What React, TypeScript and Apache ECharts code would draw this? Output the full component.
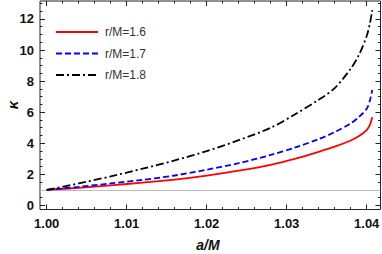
import React, { useEffect, useRef } from 'react';
import * as echarts from 'echarts';

const aOverM = [1.0, 1.004, 1.008, 1.012, 1.016, 1.02, 1.024, 1.028, 1.031, 1.034, 1.036, 1.038, 1.039, 1.04, 1.0404, 1.0407];
const kappa16 = [1.0, 1.14, 1.3, 1.47, 1.66, 1.92, 2.24, 2.62, 3.0, 3.45, 3.78, 4.18, 4.45, 4.85, 5.18, 5.67];
const kappa17 = [1.0, 1.2, 1.42, 1.65, 1.93, 2.3, 2.72, 3.25, 3.72, 4.27, 4.72, 5.28, 5.68, 6.22, 6.75, 7.43];
const kappa18 = [1.0, 1.42, 1.87, 2.37, 2.9, 3.5, 4.2, 5.0, 5.85, 6.8, 7.55, 8.8, 9.65, 10.9, 11.7, 12.57];
const seriesNames = ['r/M=1.6', 'r/M=1.7', 'r/M=1.8'];
const referenceKappa = 1;

// layout (pixels)
const PX_X = 8000; // px per unit a/M
const PX_Y = 15.55; // px per unit kappa
const FRAME_L = 40, FRAME_R = 380.5, FRAME_T = 1, FRAME_B = 209.5;
const X1_PX = 46.7; // px of a/M = 1.00
const Y0_PX = 205.5; // px of kappa = 0
const W = 382, H = 254;

export default function App() {
  const ref = useRef<HTMLDivElement>(null);
  useEffect(() => {
    const chart = echarts.init(ref.current!, null, { renderer: 'svg' });
    const toPairs = (ys: number[]) => aOverM.map((x, i) => [x, ys[i]]);
    const tickXMax = 1.04, tickYMax = 14;
    const g1Left = X1_PX;
    const g1Width = (tickXMax - 1) * PX_X;
    const g1Top = Y0_PX - tickYMax * PX_Y;
    const g1Height = tickYMax * PX_Y;
    const font = 'Arial, "Liberation Sans", sans-serif';
    const tickCommon = {
      axisLine: { show: false, onZero: false },
      axisTick: { show: true, inside: true, length: 5, lineStyle: { color: '#222', width: 1 } },
      minorTick: { show: true, length: 2.5, lineStyle: { color: '#222', width: 1 } },
      splitLine: { show: false },
      minorSplitLine: { show: false },
    };
    const option: any = {
      animation: false,
      backgroundColor: '#fff',
      grid: [
        { left: FRAME_L, top: FRAME_T, width: FRAME_R - FRAME_L, height: FRAME_B - FRAME_T, show: true, borderColor: '#222', borderWidth: 1, backgroundColor: 'transparent', outerBoundsMode: 'none', containLabel: false },
        { left: g1Left, top: g1Top, width: g1Width, height: g1Height, outerBoundsMode: 'none', containLabel: false },
      ],
      xAxis: [
        { gridIndex: 0, type: 'value', min: 1 - (X1_PX - FRAME_L) / PX_X, max: 1 + (FRAME_R - X1_PX) / PX_X, show: false, axisLine: { onZero: false } },
        {
          gridIndex: 1, type: 'value', position: 'bottom', min: 1, max: tickXMax, interval: 0.01,
          offset: FRAME_B - Y0_PX, ...tickCommon, minorTick: { ...tickCommon.minorTick, splitNumber: 5 },
          axisLabel: { show: true, margin: 7, fontSize: 13, fontWeight: 'bold', color: '#111', fontFamily: font, formatter: (v: number) => v.toFixed(2) },
        },
        {
          gridIndex: 1, type: 'value', position: 'top', min: 1, max: tickXMax, interval: 0.01,
          offset: g1Top - FRAME_T, ...tickCommon, minorTick: { ...tickCommon.minorTick, splitNumber: 5 },
          axisLabel: { show: false },
        },
      ],
      yAxis: [
        { gridIndex: 0, type: 'value', min: -(FRAME_B - Y0_PX) / PX_Y, max: (Y0_PX - FRAME_T) / PX_Y, show: false, axisLine: { onZero: false } },
        {
          gridIndex: 1, type: 'value', position: 'left', min: 0, max: tickYMax, interval: 2,
          offset: X1_PX - FRAME_L, ...tickCommon, minorTick: { ...tickCommon.minorTick, splitNumber: 4 },
          axisLabel: { show: true, margin: 6, fontSize: 13, fontWeight: 'bold', color: '#111', fontFamily: font, formatter: (v: number) => (v > 13 ? '' : String(v)) },
        },
        {
          gridIndex: 1, type: 'value', position: 'right', min: 0, max: tickYMax, interval: 2,
          offset: FRAME_R - (g1Left + g1Width), ...tickCommon, minorTick: { ...tickCommon.minorTick, splitNumber: 4 },
          axisLabel: { show: false },
        },
      ],
      legend: {
        data: seriesNames, orient: 'vertical', left: 55, top: 26, padding: 0, itemWidth: 42, itemHeight: 14, itemGap: 9.5,
        itemStyle: { opacity: 0 },
        textStyle: { fontSize: 12, color: '#333', fontFamily: font, padding: [0, 0, 0, 2] },
      },
      graphic: [
        { type: 'text', x: 12, y: 105, rotation: Math.PI / 2, style: { text: 'κ', font: 'italic bold 15px Arial, "Liberation Sans", sans-serif', fill: '#111', textAlign: 'center', textVerticalAlign: 'middle' } },
        { type: 'text', x: 208, y: 245, style: { text: 'a/M', font: 'italic bold 14px Arial, "Liberation Sans", sans-serif', fill: '#111', textAlign: 'center', textVerticalAlign: 'middle' } },
      ],
      series: [
        {
          name: seriesNames[0], type: 'line', xAxisIndex: 0, yAxisIndex: 0, data: toPairs(kappa16), smooth: 0.3, symbol: 'none',
          lineStyle: { color: '#ff0000', width: 1.8 }, itemStyle: { color: '#ff0000' }, z: 4,
          markLine: { silent: true, symbol: 'none', label: { show: false }, lineStyle: { color: '#bbbbbb', width: 1, type: 'solid' }, data: [{ yAxis: referenceKappa }], z: 1 },
        },
        {
          name: seriesNames[1], type: 'line', xAxisIndex: 0, yAxisIndex: 0, data: toPairs(kappa17), smooth: 0.3, symbol: 'none',
          lineStyle: { color: '#0000ff', width: 1.8, type: [6, 3] }, itemStyle: { color: '#0000ff' }, z: 5,
        },
        {
          name: seriesNames[2], type: 'line', xAxisIndex: 0, yAxisIndex: 0, data: toPairs(kappa18), smooth: 0.3, symbol: 'none',
          lineStyle: { color: '#000000', width: 1.8, type: [8, 3, 2, 3] }, itemStyle: { color: '#000000' }, z: 6,
        },
      ],
    };
    chart.setOption(option);
    return () => chart.dispose();
  }, []);
  return <div ref={ref} style={{ position: 'fixed', left: 0, top: 0, width: W, height: H }} />;
}
